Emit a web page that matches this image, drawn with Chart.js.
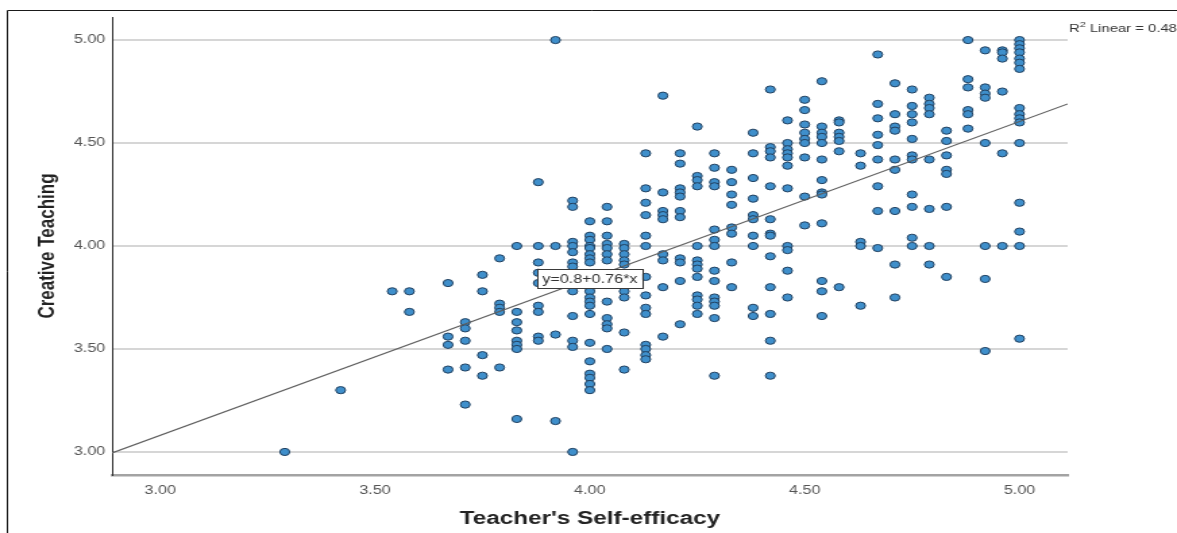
<!DOCTYPE html>
<html>
<head>
<meta charset="utf-8">
<script src="https://cdn.jsdelivr.net/npm/chart.js@4.4.1/dist/chart.umd.min.js"></script>
<style>
  html, body { margin: 0; padding: 0; background: #fff; overflow: hidden; }
  #scatter { display: block; }
</style>
</head>
<body>
<!-- the source picture is stretched sideways, so the canvas is drawn narrow and widened by its inline style -->
<canvas id="scatter" width="872" height="533" style="width:1177px;height:533px"></canvas>
<script>
// Teacher's Self-efficacy levels (x) and the Creative Teaching scores found at each level
const xLevels = [3.29, 3.42, 3.54, 3.58, 3.67, 3.71, 3.75, 3.79, 3.83, 3.88, 3.92, 3.96, 4.00,
  4.04, 4.08, 4.13, 4.17, 4.21, 4.25, 4.29, 4.33, 4.38, 4.42, 4.46, 4.50, 4.54, 4.58, 4.63,
  4.67, 4.71, 4.75, 4.79, 4.83, 4.88, 4.92, 4.96, 5.00];
const yByLevel = [
  [3.00],
  [3.30],
  [3.78],
  [3.78, 3.68],
  [3.82, 3.56, 3.52, 3.40],
  [3.63, 3.60, 3.54, 3.41, 3.23],
  [3.86, 3.78, 3.47, 3.37],
  [3.94, 3.72, 3.70, 3.68, 3.41],
  [4.00, 3.68, 3.63, 3.59, 3.54, 3.52, 3.50, 3.16],
  [4.31, 4.00, 3.92, 3.87, 3.82, 3.71, 3.68, 3.56, 3.54],
  [5.00, 4.00, 3.57, 3.15],
  [4.22, 4.19, 4.02, 4.00, 3.97, 3.92, 3.90, 3.78, 3.66, 3.54, 3.51, 3.00],
  [4.12, 4.05, 4.03, 4.00, 3.99, 3.96, 3.94, 3.92, 3.80, 3.78, 3.75, 3.73, 3.71, 3.67, 3.53, 3.44, 3.38, 3.36, 3.33, 3.30],
  [4.19, 4.12, 4.05, 4.01, 3.99, 3.96, 3.93, 3.73, 3.65, 3.62, 3.60, 3.50],
  [4.01, 3.99, 3.96, 3.93, 3.91, 3.78, 3.75, 3.58, 3.40],
  [4.45, 4.28, 4.21, 4.15, 4.05, 4.00, 3.85, 3.76, 3.70, 3.67, 3.52, 3.50, 3.47, 3.45],
  [4.73, 4.26, 4.17, 4.15, 4.13, 3.96, 3.93, 3.80, 3.56],
  [4.45, 4.40, 4.28, 4.26, 4.24, 4.17, 4.14, 3.94, 3.92, 3.83, 3.62],
  [4.58, 4.34, 4.32, 4.29, 4.00, 3.93, 3.91, 3.89, 3.85, 3.76, 3.74, 3.71, 3.67],
  [4.45, 4.38, 4.31, 4.29, 4.08, 4.03, 4.00, 3.88, 3.83, 3.75, 3.73, 3.71, 3.65, 3.37],
  [4.37, 4.31, 4.25, 4.20, 4.09, 4.06, 3.92, 3.80],
  [4.55, 4.45, 4.33, 4.23, 4.15, 4.13, 4.05, 4.00, 3.70, 3.66],
  [4.76, 4.48, 4.46, 4.43, 4.29, 4.13, 4.06, 4.05, 3.95, 3.80, 3.67, 3.54, 3.37],
  [4.61, 4.50, 4.47, 4.45, 4.43, 4.39, 4.28, 4.00, 3.98, 3.88, 3.75],
  [4.71, 4.66, 4.59, 4.55, 4.52, 4.50, 4.43, 4.24, 4.10],
  [4.80, 4.58, 4.55, 4.53, 4.50, 4.42, 4.32, 4.26, 4.25, 4.11, 3.83, 3.78, 3.66],
  [4.61, 4.60, 4.55, 4.53, 4.51, 4.46, 3.80],
  [4.45, 4.39, 4.02, 4.00, 3.71],
  [4.93, 4.69, 4.62, 4.54, 4.49, 4.42, 4.29, 4.17, 3.99],
  [4.79, 4.64, 4.58, 4.56, 4.42, 4.37, 4.17, 3.91, 3.75],
  [4.76, 4.68, 4.64, 4.60, 4.52, 4.44, 4.42, 4.25, 4.19, 4.04, 4.00],
  [4.72, 4.69, 4.67, 4.64, 4.42, 4.18, 4.00, 3.91],
  [4.56, 4.51, 4.44, 4.37, 4.35, 4.19, 3.85],
  [5.00, 4.81, 4.77, 4.66, 4.64, 4.57],
  [4.95, 4.77, 4.74, 4.72, 4.50, 4.00, 3.84, 3.49],
  [4.95, 4.94, 4.91, 4.75, 4.45, 4.00],
  [5.00, 4.98, 4.96, 4.94, 4.91, 4.89, 4.86, 4.67, 4.64, 4.62, 4.60, 4.50, 4.21, 4.07, 4.00, 3.55]
];

const xTicks = [3.0, 3.5, 4.0, 4.5, 5.0];
const yTicks = [3.0, 3.5, 4.0, 4.5, 5.0];
const axisMin = 2.888;
const axisMax = 5.112;

// fit line ends
const fitX = [2.888, 5.112];
const fitY = [2.995, 4.69];
const fitLabel = "y=0.8+0.76*x";
const fitLabelAt = [4.0, 3.84];
const r2Text = " Linear = 0.48";

const xTitle = "Teacher's Self-efficacy";
const yTitle = "Creative Teaching";

const fontFamily = '"Liberation Sans", Arial, sans-serif';
Chart.defaults.font.family = fontFamily;

const points = [];
xLevels.forEach((x, i) => {
  yByLevel[i].forEach(y => points.push({ x: x, y: y }));
});

const fitPoints = fitX.map((x, i) => ({ x: x, y: fitY[i] }));

// frame, titles, R2 text and the equation box
const decorations = {
  id: 'decorations',
  afterDraw(chart) {
    const ctx = chart.ctx;
    const area = chart.chartArea;
    const xs = chart.scales.x;
    const ys = chart.scales.y;
    ctx.save();

    ctx.strokeStyle = '#1a1a1a';
    ctx.lineWidth = 1;
    ctx.beginPath();
    ctx.moveTo(5.5, chart.height);
    ctx.lineTo(5.5, 10.5);
    ctx.lineTo(chart.width, 10.5);
    ctx.stroke();

    // equation label sits on the line
    const px = xs.getPixelForValue(fitLabelAt[0]);
    const py = ys.getPixelForValue(fitLabelAt[1]);
    ctx.font = '12px ' + fontFamily;
    const tw = ctx.measureText(fitLabel).width;
    const bw = tw + 7, bh = 19;
    ctx.fillStyle = '#fff';
    ctx.fillRect(px - bw / 2, py - bh / 2, bw, bh);
    ctx.strokeStyle = '#3a3a3a';
    ctx.strokeRect(Math.round(px - bw / 2) + 0.5, Math.round(py - bh / 2) + 0.5, Math.round(bw), bh);
    ctx.fillStyle = '#333';
    ctx.textAlign = 'center';
    ctx.textBaseline = 'middle';
    ctx.fillText(fitLabel, px, py + 1);

    // R2 Linear text at the top right
    ctx.textAlign = 'left';
    ctx.textBaseline = 'alphabetic';
    let rx = area.right + 1;
    const ry = 32;
    ctx.font = '11px ' + fontFamily;
    ctx.fillStyle = '#333';
    ctx.fillText('R', rx, ry);
    rx += ctx.measureText('R').width;
    ctx.font = '8px ' + fontFamily;
    ctx.fillText('2', rx, ry - 5);
    rx += ctx.measureText('2').width;
    ctx.font = '11px ' + fontFamily;
    ctx.fillText(r2Text, rx, ry);

    // axis titles
    ctx.fillStyle = '#222';
    ctx.font = 'bold 18px ' + fontFamily;
    ctx.textAlign = 'center';
    ctx.textBaseline = 'middle';
    ctx.fillText(xTitle, (area.left + area.right) / 2, 519);

    ctx.font = 'bold 17px ' + fontFamily;
    ctx.translate(35, (area.top + area.bottom) / 2);
    ctx.rotate(-Math.PI / 2);
    ctx.fillText(yTitle, 0, 0);

    ctx.restore();
  }
};

const ctx = document.getElementById('scatter').getContext('2d');
new Chart(ctx, {
  type: 'scatter',
  data: {
    datasets: [
      {
        type: 'line',
        label: 'Fit',
        data: fitPoints,
        borderColor: '#5e5e5e',
        borderWidth: 1.1,
        pointRadius: 0,
        fill: false,
        order: 0
      },
      {
        label: 'Scores',
        data: points,
        pointStyle: 'circle',
        pointRadius: 3.6,
        backgroundColor: '#3f8fcb',
        borderColor: '#21405f',
        borderWidth: 1,
        order: 1
      }
    ]
  },
  options: {
    responsive: false,
    animation: false,
    events: [],
    devicePixelRatio: 1,
    layout: { padding: { top: 17, right: 81, left: 0, bottom: 0 } },
    plugins: { legend: { display: false }, tooltip: { enabled: false } },
    scales: {
      x: {
        type: 'linear',
        min: axisMin,
        max: axisMax,
        afterBuildTicks: axis => { axis.ticks = xTicks.map(v => ({ value: v })); },
        afterFit: axis => { axis.height = 58; },
        grid: { display: false, drawTicks: false },
        border: { display: true, color: '#a3a3a3', width: 2.5 },
        ticks: {
          padding: 8,
          color: '#555',
          font: { size: 12 },
          maxRotation: 0,
          callback: v => Number(v).toFixed(2)
        }
      },
      y: {
        type: 'linear',
        min: axisMin,
        max: axisMax,
        afterBuildTicks: axis => { axis.ticks = yTicks.map(v => ({ value: v })); },
        afterFit: axis => { axis.width = 83; },
        grid: { display: true, drawTicks: false, color: '#d6d6d6', lineWidth: 2 },
        border: { display: true, color: '#2a2a2a', width: 1 },
        ticks: {
          padding: 5,
          color: '#555',
          font: { size: 12 },
          callback: v => Number(v).toFixed(2)
        }
      }
    }
  },
  plugins: [decorations]
});
</script>
</body>
</html>
